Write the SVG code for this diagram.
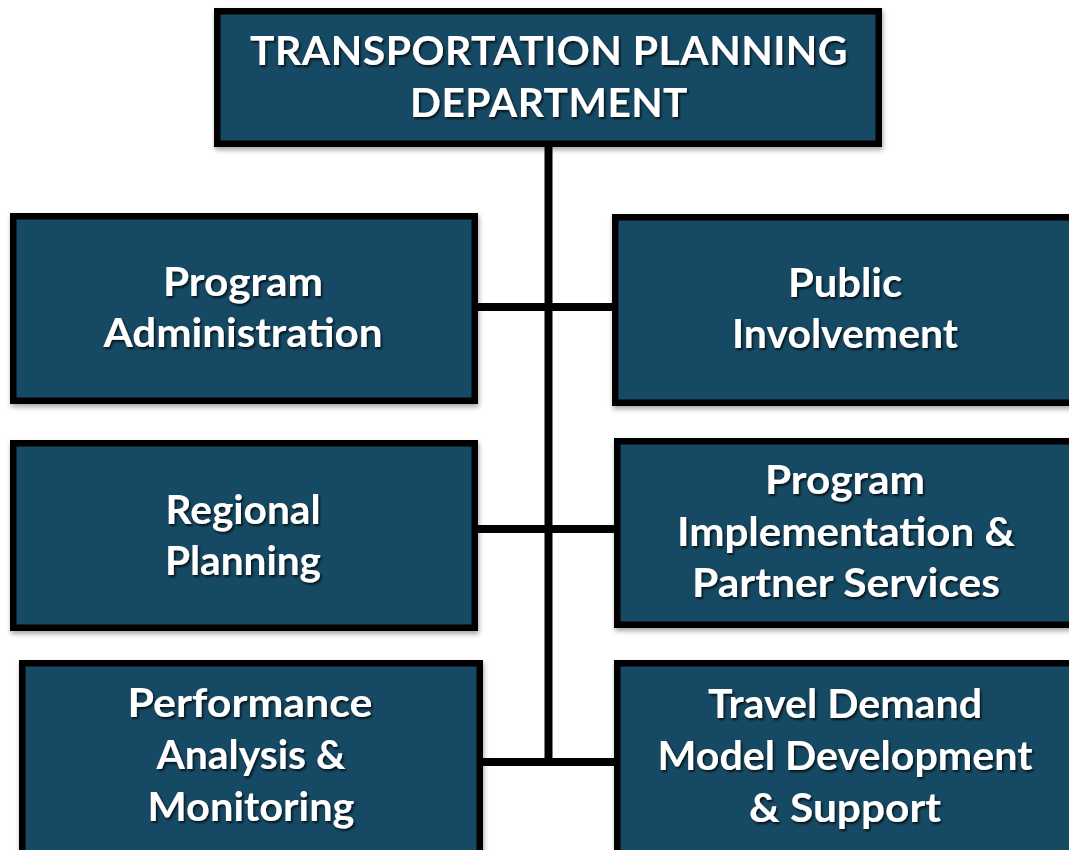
<svg xmlns="http://www.w3.org/2000/svg" width="1069" height="850" viewBox="0 0 1069 850">
<defs>
<filter id="boxShadow" x="-5%" y="-5%" width="115%" height="120%">
<feDropShadow dx="1" dy="3" stdDeviation="2.5" flood-color="#000" flood-opacity="0.35"/>
</filter>
<filter id="txtShadow" x="-5%" y="-20%" width="115%" height="150%">
<feDropShadow dx="1.5" dy="2" stdDeviation="1.2" flood-color="#000" flood-opacity="0.75"/>
</filter>
</defs>
<style>
.box{fill:#144963;stroke:#000;stroke-width:6.5;stroke-linejoin:miter}
.lbl{fill:#fff;font-family:Lato,"Open Sans","Liberation Sans",sans-serif;font-weight:700;font-size:40px;text-anchor:middle}
.ttl{font-size:41px;letter-spacing:0.5px}
.wire{stroke:#000;stroke-width:8;fill:none}
</style>
<rect width="1069" height="850" fill="#fff"/>
<g id="connectors">
<line class="wire" x1="548.5" y1="144" x2="548.5" y2="766"/>
<line class="wire" x1="474" y1="307" x2="616" y2="307"/>
<line class="wire" x1="474" y1="529" x2="618" y2="529"/>
<line class="wire" x1="480" y1="762" x2="618" y2="762"/>
</g>
<g id="node-top">
<rect class="box" filter="url(#boxShadow)" x="217.25" y="11.25" width="661.5" height="132.5"/>
<g filter="url(#txtShadow)">
<text class="lbl ttl" x="549" y="65" textLength="598" lengthAdjust="spacingAndGlyphs">TRANSPORTATION PLANNING</text>
<text class="lbl ttl" x="549" y="117" textLength="278" lengthAdjust="spacingAndGlyphs">DEPARTMENT</text>
</g>
</g>
<g id="node-program-admin">
<rect class="box" filter="url(#boxShadow)" x="13.25" y="216.25" width="461.5" height="184.5"/>
<g filter="url(#txtShadow)">
<text class="lbl" x="243" y="296" textLength="160" lengthAdjust="spacingAndGlyphs">Program</text>
<text class="lbl" x="243" y="347" textLength="279" lengthAdjust="spacingAndGlyphs">Administration</text>
</g>
</g>
<g id="node-public-involvement">
<rect class="box" filter="url(#boxShadow)" x="615.25" y="217.25" width="461.5" height="185.5"/>
<g filter="url(#txtShadow)">
<text class="lbl" x="845" y="297" textLength="114" lengthAdjust="spacingAndGlyphs">Public</text>
<text class="lbl" x="845" y="348" textLength="226" lengthAdjust="spacingAndGlyphs">Involvement</text>
</g>
</g>
<g id="node-regional-planning">
<rect class="box" filter="url(#boxShadow)" x="13.25" y="443.25" width="461.5" height="184.5"/>
<g filter="url(#txtShadow)">
<text class="lbl" x="243" y="524" textLength="155" lengthAdjust="spacingAndGlyphs">Regional</text>
<text class="lbl" x="243" y="575" textLength="156" lengthAdjust="spacingAndGlyphs">Planning</text>
</g>
</g>
<g id="node-program-implementation">
<rect class="box" filter="url(#boxShadow)" x="617.25" y="441.25" width="459.5" height="183.5"/>
<g filter="url(#txtShadow)">
<text class="lbl" x="845" y="494" textLength="160" lengthAdjust="spacingAndGlyphs">Program</text>
<text class="lbl" x="846" y="546" textLength="338" lengthAdjust="spacingAndGlyphs">Implementation &amp;</text>
<text class="lbl" x="846" y="597" textLength="308" lengthAdjust="spacingAndGlyphs">Partner Services</text>
</g>
</g>
<g id="node-performance">
<rect class="box" filter="url(#boxShadow)" x="22.25" y="663.25" width="457.5" height="200"/>
<g filter="url(#txtShadow)">
<text class="lbl" x="250" y="717" textLength="245" lengthAdjust="spacingAndGlyphs">Performance</text>
<text class="lbl" x="251" y="769" textLength="189" lengthAdjust="spacingAndGlyphs">Analysis &amp;</text>
<text class="lbl" x="251" y="821" textLength="207" lengthAdjust="spacingAndGlyphs">Monitoring</text>
</g>
</g>
<g id="node-travel-demand">
<rect class="box" filter="url(#boxShadow)" x="617.25" y="663.25" width="459.5" height="200"/>
<g filter="url(#txtShadow)">
<text class="lbl" x="845" y="718" textLength="274" lengthAdjust="spacingAndGlyphs">Travel Demand</text>
<text class="lbl" x="845" y="770" textLength="375" lengthAdjust="spacingAndGlyphs">Model Development</text>
<text class="lbl" x="845" y="822" textLength="192" lengthAdjust="spacingAndGlyphs">&amp; Support</text>
</g>
</g>
</svg>
